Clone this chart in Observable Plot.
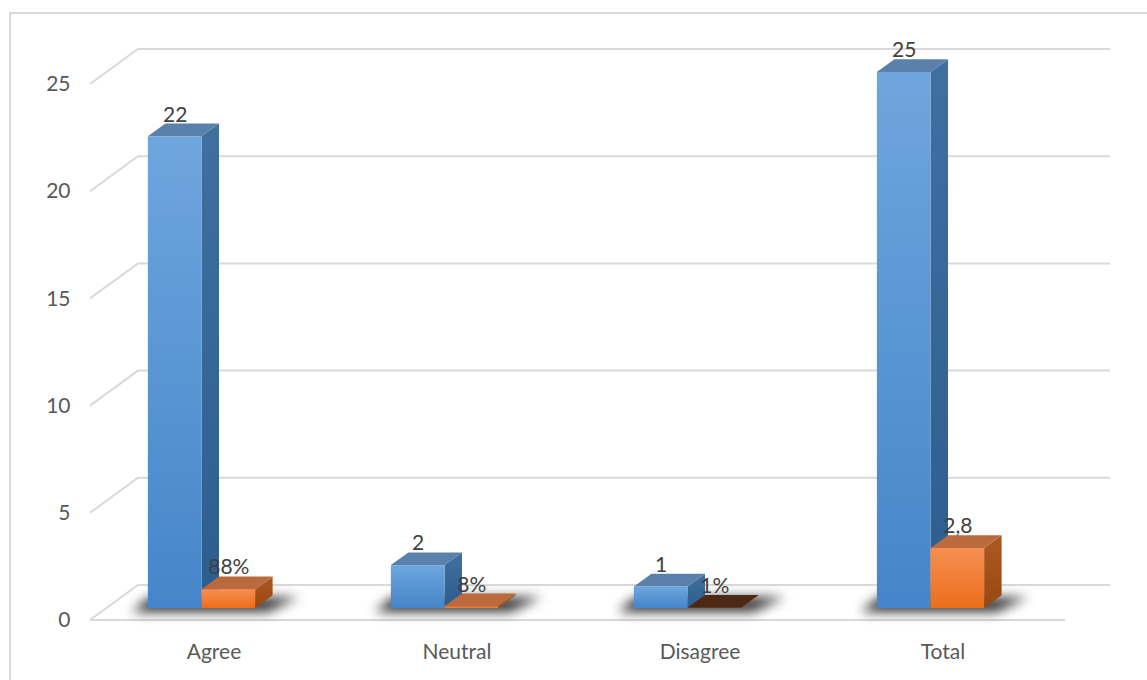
<!DOCTYPE html>
<html>
<head>
<meta charset="utf-8">
<script src="https://cdn.jsdelivr.net/npm/d3@7"></script>
<script src="https://cdn.jsdelivr.net/npm/@observablehq/plot@0.6"></script>
<style>
  html, body { margin: 0; padding: 0; background: #fff; }
  #chart { position: relative; width: 1147px; height: 680px; overflow: hidden; }
  #chart .border {
    position: absolute; left: 9px; top: 12px; width: 1300px; height: 800px;
    border-top: 2px solid #d9d9d9; border-left: 2px solid #d9d9d9;
    box-sizing: border-box; pointer-events: none;
  }
  #chart svg { position: absolute; left: 0; top: 0; }
</style>
</head>
<body>
<div id="chart"><div class="border"></div></div>
<script>
// Survey responses: counts and their shares
const categories = ["Agree", "Neutral", "Disagree", "Total"];
const counts = [22, 2, 1, 25];
const shares = [0.88, 0.08, 0.01, 2.8];
const countLabels = ["22", "2", "1", "25"];
const shareLabels = ["88%", "8%", "1%", "2,8"];
const yTicks = [0, 5, 10, 15, 20, 25];

// Layout and 3D look
const W = 1147, H = 680;
const M = {top: 72, right: 82, bottom: 72, left: 90};
const bandW = (W - M.left - M.right) / categories.length;
const barW = bandW * 0.22;       // width of one column face
const groupShift = -12;          // column pair sits slightly left of the band centre
const DX = 17.5, DY = 12.7;      // depth of each column
const FRONT = 12;                // axis plane lies in front of the columns
const BACK = 23;                 // back wall lies behind the columns
const WALL_DX = 48;              // horizontal reach of the side/floor diagonals

const series = [
  {values: counts, front: ["#6ea6de", "#4585c9"], side: ["#40709f", "#2c5d8e"], top: "#5a81ac", flatTop: "#2f4a66"},
  {values: shares, front: ["#f68f50", "#eb6e1c"], side: ["#ad5a22", "#984810"], top: "#bb6a3e", flatTop: "#4b2915"}
];

function scene(index, scales) {
  const {x, y} = scales;
  const bw = x.bandwidth();
  const [fx0, fx1] = x.range();
  const g = d3.create("svg:g");
  const defs = g.append("defs");

  const blur = defs.append("filter").attr("id", "shadow-blur")
    .attr("x", "-50%").attr("y", "-200%").attr("width", "200%").attr("height", "500%");
  blur.append("feGaussianBlur").attr("stdDeviation", 6);

  series.forEach((s, k) => {
    [["front", s.front], ["side", s.side]].forEach(([name, stops]) => {
      const lg = defs.append("linearGradient").attr("id", `g-${name}-${k}`)
        .attr("x1", 0).attr("y1", 0).attr("x2", 0).attr("y2", 1);
      lg.append("stop").attr("offset", "0%").attr("stop-color", stops[0]);
      lg.append("stop").attr("offset", "100%").attr("stop-color", stops[1]);
    });
  });

  // back wall gridlines with their diagonals to the axis plane
  const grid = g.append("g").attr("fill", "none").attr("stroke", "#d9d9d9").attr("stroke-width", 2);
  yTicks.forEach(v => {
    const yf = y(v) + FRONT, yb = y(v) - BACK;
    grid.append("path").attr("d", `M${fx0},${yf}L${fx0 + WALL_DX},${yb}L${fx1 + WALL_DX - 3},${yb}`);
  });
  // front edge of the floor
  grid.append("path").attr("d", `M${fx0},${y(0) + FRONT}L${fx1},${y(0) + FRONT}`);

  const y0 = y(0);
  categories.forEach((c, i) => {
    const gc = x(c) + bw / 2 + groupShift;
    const gl = gc - barW, gr = gc + barW;
    // soft shadow on the floor
    g.append("path")
      .attr("d", `M${gl - 16},${y0 + 4}L${gr + 12},${y0 + 4}L${gr + DX + 26},${y0 - DY + 2}L${gl + DX - 16},${y0 - DY + 2}Z`)
      .attr("fill", "#000").attr("fill-opacity", 0.8).attr("filter", "url(#shadow-blur)");

    series.forEach((s, k) => {
      const xa = gl + k * barW, xb = xa + barW;
      const yt = y(s.values[i]);
      const thin = y0 - yt < 1;   // a column with almost no height shows its top in shade
      g.append("path")
        .attr("d", `M${xb},${yt}L${xb + DX},${yt - DY}L${xb + DX},${y0 - DY}L${xb},${y0}Z`)
        .attr("fill", `url(#g-side-${k})`);
      g.append("rect").attr("x", xa).attr("y", yt).attr("width", barW).attr("height", Math.max(0, y0 - yt))
        .attr("fill", `url(#g-front-${k})`);
      g.append("path")
        .attr("d", `M${xa},${yt}L${xb},${yt}L${xb + DX},${yt - DY}L${xa + DX},${yt - DY}Z`)
        .attr("fill", thin ? s.flatTop : s.top);
    });
  });
  return g.node();
}

const idx = d3.range(categories.length);
const labelDy = -22;

const chart = Plot.plot({
  width: W,
  height: H,
  marginTop: M.top,
  marginRight: M.right,
  marginBottom: M.bottom,
  marginLeft: M.left,
  style: {fontFamily: "Lato, 'Liberation Sans', sans-serif", fontSize: "21px", color: "#595959", background: "transparent"},
  x: {type: "band", domain: categories, padding: 0},
  y: {domain: [0, 25]},
  marks: [
    scene,
    Plot.text(idx, {
      x: i => categories[i], y: i => counts[i], text: i => countLabels[i],
      dx: groupShift - barW / 2, dy: labelDy, fill: "#404040", fontSize: 21
    }),
    Plot.text(idx, {
      x: i => categories[i], y: i => shares[i], text: i => shareLabels[i],
      dx: groupShift + barW / 2, dy: labelDy, fill: "#404040", fontSize: 21
    }),
    Plot.axisX({tickSize: 0, tickPadding: 36, label: null, fill: "#595959", fontSize: 21}),
    Plot.axisY({ticks: yTicks, tickSize: 0, tickPadding: 20, dy: FRONT, label: null, fill: "#595959", fontSize: 21})
  ]
});

document.getElementById("chart").appendChild(chart);
</script>
</body>
</html>
